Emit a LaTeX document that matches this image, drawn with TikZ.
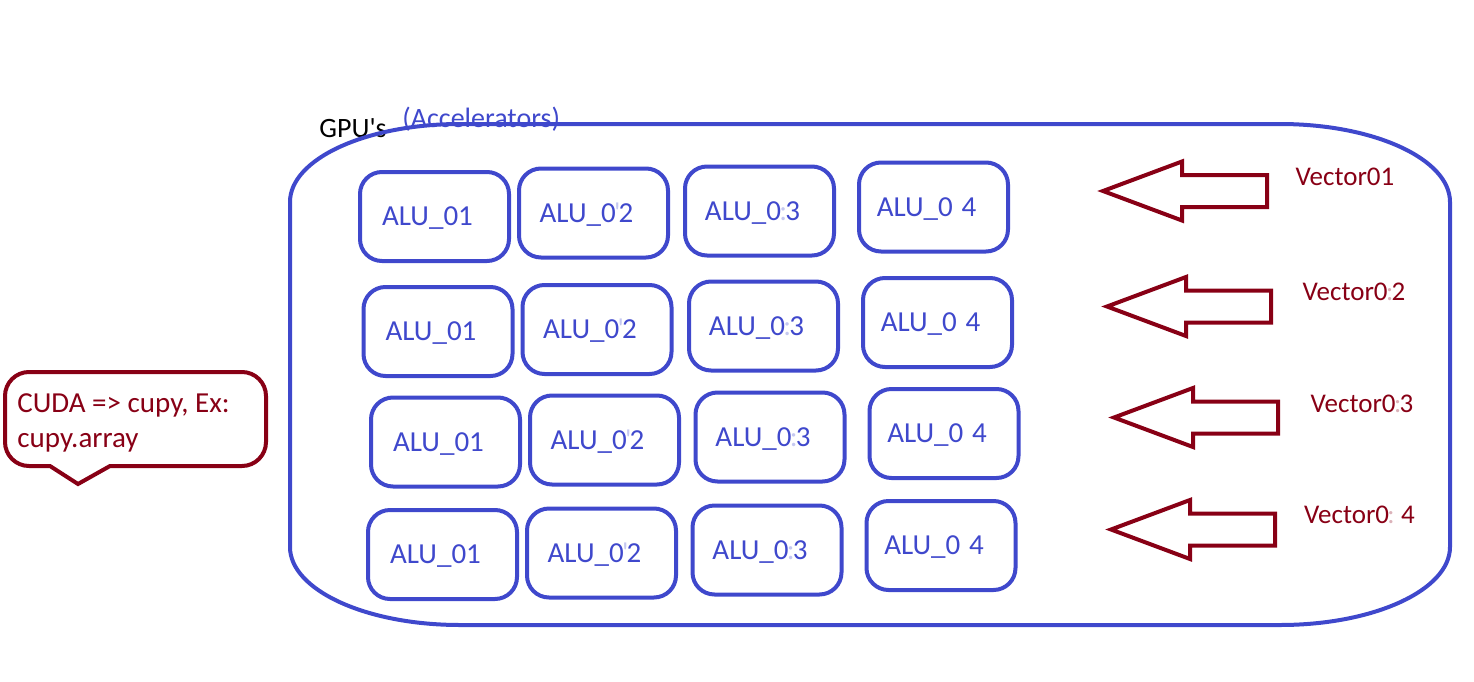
\documentclass[tikz,border=0pt]{standalone}
\usepackage{fontspec}
\setmainfont{Carlito}
\definecolor{alublue}{RGB}{63,72,204}
\definecolor{vecred}{RGB}{136,0,21}
\newcommand{\faintch}[2]{{\color{#1!30}\kern-0.06em#2\kern-0.06em}}
\tikzset{
  alubox/.style={draw=alublue, line width=2pt, rounded corners=11pt,
    minimum width=74.5pt, minimum height=44.5pt, inner sep=0pt,
    text=alublue, font=\fontsize{14.5}{17}\selectfont,
    text height=9.3pt, text depth=0pt,
    execute at end node={\hspace{7pt}}},
  veclabel/.style={text=vecred, inner sep=0pt,
    font=\fontsize{13.5}{16}\selectfont, text height=8.7pt, text depth=0pt},
  vecarrow/.style={draw=vecred, line width=2pt},
  gpuline/.style={draw=alublue, line width=2pt},
  pics/blockarrow/.style={code={
    \draw[vecarrow] (0,0) -- (79,-29.5) -- (79,-16) -- (164,-16)
      -- (164,16) -- (79,16) -- (79,29.5) -- cycle;}}
}
\begin{document}
\begin{tikzpicture}[x=0.5pt, y=-0.5pt]
  \useasboundingbox (0,0) rectangle (1474,681);
  % labels above the GPU
  \node[anchor=base west, inner sep=0pt, font=\fontsize{14}{16}\selectfont] (gpu) at (319,137) {GPU\textquotesingle s};
  \node[anchor=base west, inner sep=0pt, text=alublue, font=\fontsize{14}{16}\selectfont] (accel) at (402,127) {(Accelerators)};
  % GPU outline
  \draw[gpuline] (290,202) .. controls (290,159) and (366,124) .. (460,124)
    -- (1280,124) .. controls (1374,124) and (1450,159) .. (1450,202)
    -- (1450,547) .. controls (1450,590) and (1374,625) .. (1280,625)
    -- (460,625) .. controls (366,625) and (290,590) .. (290,547) -- cycle;
  % ALUs
  \node[alubox] (alu11) at (434.5,216.5) {ALU\_01};
  \node[alubox] (alu12) at (593.5,213) {ALU\_0\faintch{alublue}{\textquotesingle}2};
  \node[alubox] (alu13) at (759.5,211) {ALU\_0\faintch{alublue}{:}3};
  \node[alubox] (alu14) at (933.5,207) {ALU\_0\hspace{0.3em}4};
  \node[alubox] (alu21) at (438,331.5) {ALU\_01};
  \node[alubox] (alu22) at (597,329.5) {ALU\_0\faintch{alublue}{\textquotesingle}2};
  \node[alubox] (alu23) at (763.5,326) {ALU\_0\faintch{alublue}{:}3};
  \node[alubox] (alu24) at (937.5,322.5) {ALU\_0\hspace{0.3em}4};
  \node[alubox] (alu31) at (445.5,442) {ALU\_01};
  \node[alubox] (alu32) at (604.5,440) {ALU\_0\faintch{alublue}{\textquotesingle}2};
  \node[alubox] (alu33) at (770,437) {ALU\_0\faintch{alublue}{:}3};
  \node[alubox] (alu34) at (944,433.5) {ALU\_0\hspace{0.3em}4};
  \node[alubox] (alu41) at (442.5,554.5) {ALU\_01};
  \node[alubox] (alu42) at (601.5,553) {ALU\_0\faintch{alublue}{\textquotesingle}2};
  \node[alubox] (alu43) at (767,550) {ALU\_0\faintch{alublue}{:}3};
  \node[alubox] (alu44) at (941,545.5) {ALU\_0\hspace{0.3em}4};
  % input vectors
  \pic (arr1) at (1103,191) {blockarrow};
  \pic (arr2) at (1107,306.5) {blockarrow};
  \pic (arr3) at (1114,417.5) {blockarrow};
  \pic (arr4) at (1111,529.5) {blockarrow};
  \node[veclabel] (vec1) at (1345,176.5) {Vector01};
  \node[veclabel] (vec2) at (1354,292) {Vector0\faintch{vecred}{:}2};
  \node[veclabel] (vec3) at (1362,403.5) {Vector0\faintch{vecred}{:}3};
  \node[veclabel] (vec4) at (1359.5,515) {Vector0\faintch{vecred}{:}\hspace{0.3em}4};
  % CUDA note
  \draw[vecred, line width=2pt] (78,484) -- (110,466) [rounded corners=12pt]
    -- (266,466) -- (266,372) -- (5,372) -- (5,466) [sharp corners] -- (50,466) -- cycle;
  \node[anchor=north west, inner sep=0pt, align=left, text=vecred,
    font=\fontsize{14.5}{17.5}\selectfont] (cuda) at (17,393)
    {CUDA => cupy, Ex:\\cupy.array};
\end{tikzpicture}
\end{document}
